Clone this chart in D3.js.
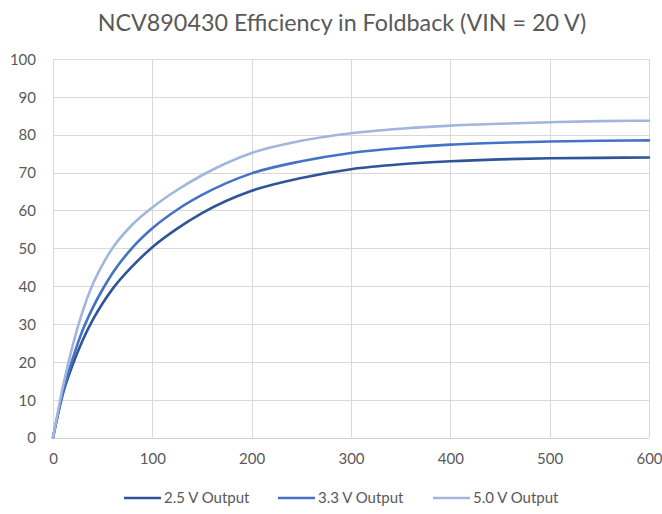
<!DOCTYPE html>
<html>
<head>
<meta charset="utf-8">
<script src="https://cdn.jsdelivr.net/npm/d3@7"></script>
<style>
html,body{margin:0;padding:0;background:#fff;}
svg{display:block;}
text{font-family:Lato,"Open Sans",sans-serif;fill:#595959;}
</style>
</head>
<body>
<svg id="chart" width="662" height="514"></svg>
<script>
const title = "NCV890430 Efficiency in Foldback (VIN = 20 V)";
const xValues = [0, 10, 20, 30, 40, 50, 60, 80, 100, 125, 150, 200, 250, 300, 350, 400, 450, 500, 550, 600];
const out25 = [0, 11.6, 19.4, 25.8, 31.1, 35.5, 39.3, 45.3, 50.3, 55.2, 59.3, 65.2, 68.6, 70.9, 72.2, 73.0, 73.5, 73.8, 73.9, 74.0];
const out33 = [0, 12, 21, 28.5, 34.3, 39.2, 43.5, 50.2, 55.3, 60.2, 64.1, 69.8, 73.0, 75.2, 76.5, 77.4, 77.9, 78.2, 78.4, 78.5];
const out50 = [0, 13.5, 24.5, 33.5, 40.5, 45.8, 50.1, 56.3, 60.8, 65.4, 69.3, 75.2, 78.4, 80.4, 81.6, 82.4, 82.9, 83.3, 83.6, 83.7];
const seriesNames = ["2.5 V Output", "3.3 V Output", "5.0 V Output"];
const seriesColors = ["#2F5597", "#4472C4", "#A2B5DF"];
const xTicks = [0, 100, 200, 300, 400, 500, 600];
const yTicks = [0, 10, 20, 30, 40, 50, 60, 70, 80, 90, 100];

const svg = d3.select("#chart");
svg.append("rect").attr("width", 662).attr("height", 514).attr("fill", "#fff");

const x = d3.scaleLinear().domain([0, 600]).range([53, 649]);
const y = d3.scaleLinear().domain([0, 100]).range([437.7, 59]);

// grid
const grid = svg.append("g");
grid.selectAll("line.h").data(yTicks).join("line")
  .attr("x1", x(0)).attr("x2", x(600))
  .attr("y1", d => Math.round(y(d)) + 0.5).attr("y2", d => Math.round(y(d)) + 0.5)
  .attr("stroke", "#D9D9D9").attr("stroke-width", 1);
grid.selectAll("line.v").data(xTicks).join("line")
  .attr("y1", y(0)).attr("y2", y(100))
  .attr("x1", d => Math.round(x(d)) + 0.5).attr("x2", d => Math.round(x(d)) + 0.5)
  .attr("stroke", "#D9D9D9").attr("stroke-width", 1);

// axes (labels only)
const yAxis = d3.axisLeft(y).tickValues(yTicks).tickSize(0).tickPadding(0);
const gy = svg.append("g").attr("transform", "translate(36,0)").call(yAxis);
gy.select(".domain").remove();
gy.selectAll("text").attr("font-size", 15).attr("fill", "#595959")
  .style("font-family", "Lato, sans-serif").attr("dy", "0.35em");

const xAxis = d3.axisBottom(x).tickValues(xTicks).tickSize(0).tickPadding(0);
const gx = svg.append("g").attr("transform", "translate(0,453)").call(xAxis);
gx.select(".domain").remove();
gx.selectAll("text").attr("font-size", 15).attr("fill", "#595959")
  .style("font-family", "Lato, sans-serif").attr("dy", "0.71em");

// bottom axis line
svg.append("line").attr("x1", x(0)).attr("x2", x(600))
  .attr("y1", Math.round(y(0)) + 0.5).attr("y2", Math.round(y(0)) + 0.5)
  .attr("stroke", "#D0D0D0");

// lines
const allSeries = [out25, out33, out50];
const line = d3.line().x((d, i) => x(xValues[i])).y(d => y(d)).curve(d3.curveMonotoneX);
svg.append("g").selectAll("path").data(allSeries).join("path")
  .attr("d", d => line(d))
  .attr("fill", "none")
  .attr("stroke", (d, i) => seriesColors[i])
  .attr("stroke-width", 2.6)
  .attr("stroke-linecap", "round");

// title
svg.append("text").attr("x", 342).attr("y", 31).attr("text-anchor", "middle")
  .attr("font-size", 23.3).text(title);

// legend
const legendX = [124, 278, 433];
const lg = svg.append("g");
seriesNames.forEach((name, i) => {
  lg.append("line").attr("x1", legendX[i]).attr("x2", legendX[i] + 37)
    .attr("y1", 498).attr("y2", 498)
    .attr("stroke", seriesColors[i]).attr("stroke-width", 2.6);
  lg.append("text").attr("x", legendX[i] + 40).attr("y", 503)
    .attr("font-size", 15).text(name);
});
</script>
</body>
</html>
